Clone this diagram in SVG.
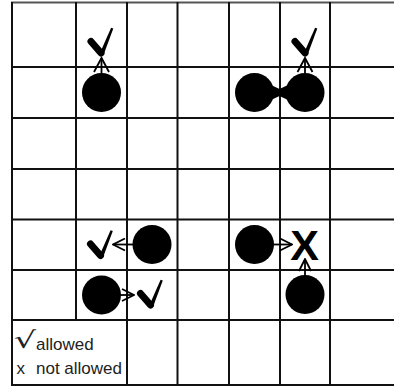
<svg xmlns="http://www.w3.org/2000/svg" width="394" height="389" viewBox="0 0 394 389">
<style>
.grid line{stroke:#111;stroke-width:2}
.piece{fill:#000}
.conn line{stroke:#000;stroke-width:1.8;fill:none}
.lg{font-family:"Liberation Sans",Arial,sans-serif;font-size:17px;fill:#222}
.bad{font-family:"Liberation Sans",Arial,sans-serif;font-size:43px;font-weight:bold;fill:#000}
</style>
<defs>
<marker id="ah" viewBox="0 0 14 14" refX="13" refY="7" markerWidth="14" markerHeight="14" markerUnits="userSpaceOnUse" orient="auto">
<path d="M1,1 L13,7 L1,13" fill="none" stroke="#000" stroke-width="1.8"/>
</marker>
<g id="check">
<line x1="-10.5" y1="-13.5" x2="-0.5" y2="-2" stroke="#000" stroke-width="7" stroke-linecap="round"/>
<path d="M-2.4,0 L2,0 L11.8,-26.5 L9.6,-27.2 Z" fill="#000"/>
</g>
</defs>
<rect width="394" height="389" fill="#fff"/>
<g class="grid" id="grid">
<line x1="11" y1="2.5" x2="394" y2="2.5" style="stroke:#555"/>
<line x1="11" y1="67" x2="394" y2="67"/>
<line x1="11" y1="118" x2="394" y2="118"/>
<line x1="11" y1="169" x2="394" y2="169"/>
<line x1="11" y1="219.5" x2="394" y2="219.5"/>
<line x1="11" y1="270" x2="394" y2="270"/>
<line x1="11" y1="320" x2="394" y2="320"/>
<line x1="11" y1="385" x2="394" y2="385"/>
<line x1="12" y1="2" x2="12" y2="386"/>
<line x1="76" y1="2" x2="76" y2="320"/>
<line x1="127" y1="2" x2="127" y2="386"/>
<line x1="177.5" y1="2" x2="177.5" y2="386"/>
<line x1="229" y1="2" x2="229" y2="386"/>
<line x1="280" y1="2" x2="280" y2="386"/>
<line x1="330" y1="2" x2="330" y2="386"/>
</g>
<g class="conn" id="connectors">
<line x1="101.5" y1="73" x2="101.5" y2="58"/>
<line x1="305" y1="73" x2="305" y2="58"/>
<polygon points="271,85 287,92.5 271,100" fill="#000" stroke="none"/>
<polygon points="288,85 272,92.5 288,100" fill="#000" stroke="none"/>
<line x1="133" y1="244.5" x2="113" y2="244.5" marker-end="url(#ah)"/>
<line x1="120" y1="295" x2="134" y2="295" marker-end="url(#ah)"/>
<line x1="273" y1="244.5" x2="292" y2="244.5" marker-end="url(#ah)"/>
<line x1="305" y1="276" x2="305" y2="259" marker-end="url(#ah)"/>
</g>
<g id="arrowheads-up">
<path d="M94,72 L101.5,58 L109,72" fill="none" stroke="#000" stroke-width="1.8"/>
<path d="M297.5,72 L305,58 L312.5,72" fill="none" stroke="#000" stroke-width="1.8"/>
</g>
<g id="piece-b2"><circle class="piece" cx="101.5" cy="92.5" r="19.5"/></g>
<g id="piece-e2"><circle class="piece" cx="254.5" cy="92.5" r="19.5"/></g>
<g id="piece-f2"><circle class="piece" cx="305" cy="92.5" r="19.5"/></g>
<g id="piece-c5"><circle class="piece" cx="152" cy="244.5" r="19.5"/></g>
<g id="piece-e5"><circle class="piece" cx="254.5" cy="244.5" r="19.5"/></g>
<g id="piece-b6"><circle class="piece" cx="101.5" cy="295" r="19.5"/></g>
<g id="piece-f6"><circle class="piece" cx="305" cy="294.5" r="19.5"/></g>
<g id="mark-b1"><use href="#check" x="101.5" y="55"/></g>
<g id="mark-f1"><use href="#check" x="305.5" y="55"/></g>
<g id="mark-b5"><use href="#check" x="101" y="257.5"/></g>
<g id="mark-c6"><use href="#check" x="151" y="307"/></g>
<g id="mark-f5"><text class="bad" x="304.5" y="260" text-anchor="middle">X</text></g>
<g id="legend">
<text class="lg" transform="translate(14,348) scale(1.5,1)" style="font-family:'DejaVu Sans',sans-serif;font-size:23px">√</text>
<text class="lg" x="36" y="350">allowed</text>
<text class="lg" x="16.5" y="374">x</text>
<text class="lg" x="36" y="374">not allowed</text>
</g>
</svg>
